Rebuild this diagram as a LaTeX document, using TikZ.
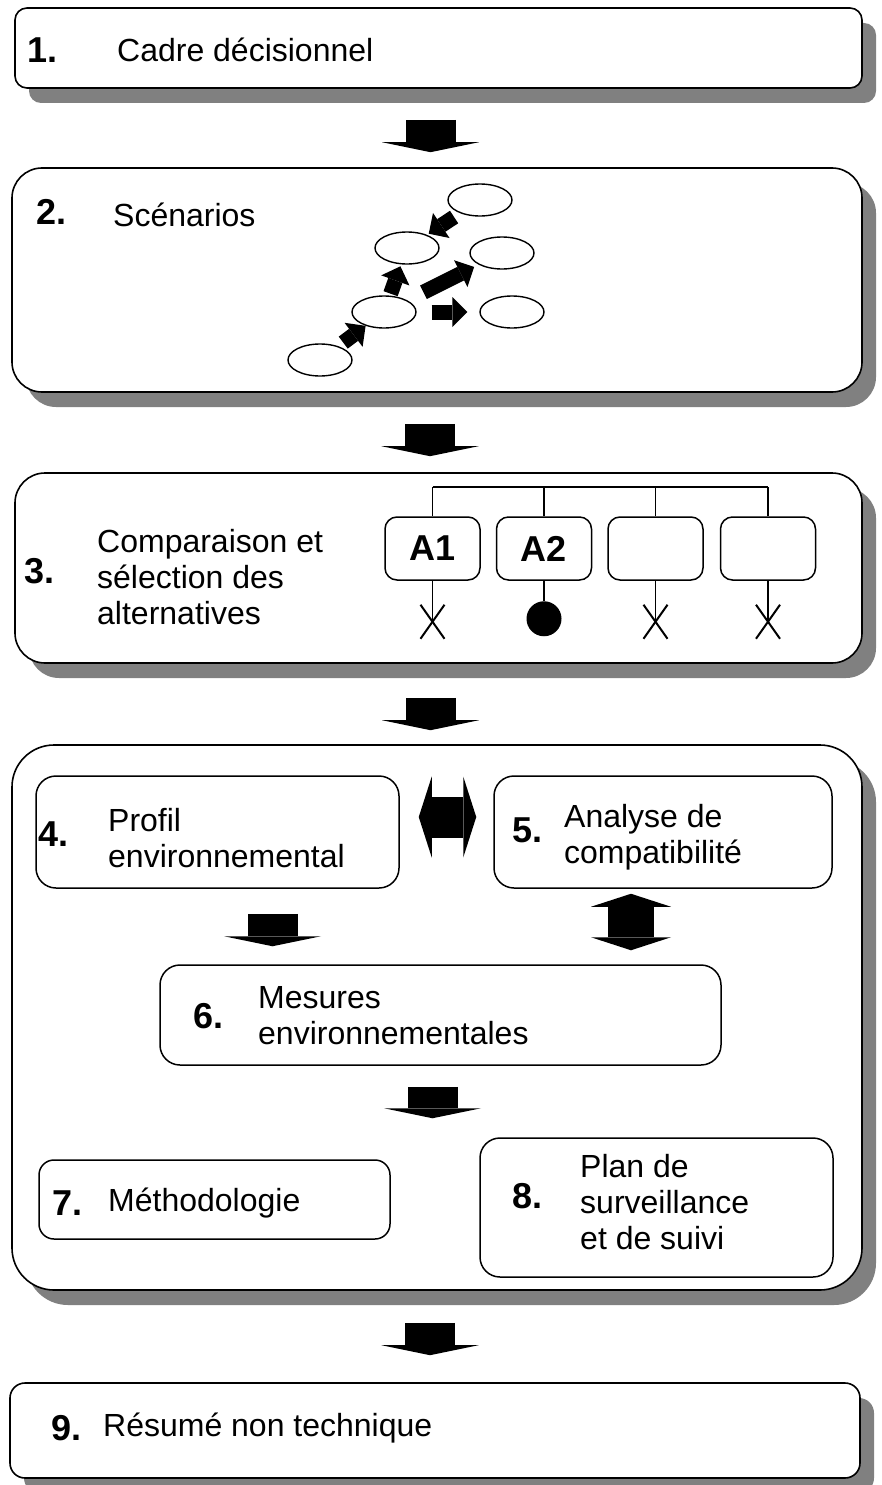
\documentclass[tikz,border=0pt]{standalone}
\usepackage{fontspec}
\setmainfont{Liberation Sans}
\usetikzlibrary{arrows.meta,shapes.geometric,shadows,calc}

\begin{document}
\begin{tikzpicture}[x=1pt, y=-1pt, font=\fontsize{32}{36}\selectfont]
  \tikzset{
    stage/.style={draw, line width=1.6pt, fill=white, rounded corners=#1, inner sep=0pt,
      drop shadow={shadow xshift=14pt, shadow yshift=-15pt, fill=black!50, opacity=1}},
    stage/.default=12pt,
    sub/.style={draw, line width=1.5pt, fill=white, rounded corners=#1, inner sep=0pt},
    sub/.default=20pt,
    alt/.style={draw, line width=1.5pt, fill=white, rounded corners=12pt, inner sep=0pt,
      minimum width=95pt, minimum height=63pt, font=\fontsize{36}{40}\selectfont\bfseries},
    num/.style={anchor=west, inner sep=0pt, font=\fontsize{36}{40}\selectfont\bfseries},
    lbl/.style={anchor=west, inner sep=0pt, align=left},
    scenario/.style={ellipse, draw, line width=1.4pt, fill=white, minimum width=64pt, minimum height=32pt, inner sep=0pt},
    wire/.style={line width=1.5pt},
    cross/.style={line width=2pt},
    bigarrow/.style={line width=50pt, -{Triangle[length=10pt, width=97pt, line width=0pt]}},
    smallarrow/.style={line width=15pt, -{Triangle[length=15pt, width=30pt, line width=0pt]}},
    dblh/.style={line width=41pt, {Triangle[length=13pt, width=81pt, line width=0pt]}-{Triangle[length=13pt, width=81pt, line width=0pt]}},
    dblv/.style={line width=46pt, {Triangle[length=13pt, width=80pt, line width=0pt]}-{Triangle[length=13pt, width=80pt, line width=0pt]}}
  }
  \useasboundingbox (0,0) rectangle (881,1485);

  % Main stages
  \node[stage=12pt, minimum width=847pt, minimum height=80pt]  (cadre)  at (438.5,48) {};
  \node[stage=30pt, minimum width=850pt, minimum height=224pt] (scen)   at (437,280) {};
  \node[stage=30pt, minimum width=847pt, minimum height=190pt] (comp)   at (438.5,568) {};
  \node[stage=42pt, minimum width=850pt, minimum height=545pt] (etude)  at (437,1017.5) {};
  \node[stage=15pt, minimum width=850pt, minimum height=95pt]  (resume) at (435,1430.5) {};

  % Inner boxes
  \node[sub, minimum width=363pt, minimum height=112pt]      (profil)  at (217.5,832) {};
  \node[sub, minimum width=338pt, minimum height=112pt]      (compat)  at (663,832) {};
  \node[sub, minimum width=561pt, minimum height=100pt]      (mesures) at (440.5,1015) {};
  \node[sub=15pt, minimum width=351pt, minimum height=79pt]  (methodo) at (214.5,1199.5) {};
  \node[sub, minimum width=353pt, minimum height=139pt]      (suivi)   at (656.5,1207.5) {};

  % Labels
  \node[num] (n1) at (27,50) {1.};
  \node[lbl] (t1) at (117,50) {Cadre décisionnel};
  \node[num] (n2) at (36,212) {2.};
  \node[lbl] (t2) at (113,215) {Scénarios};
  \node[num] (n3) at (24,571) {3.};
  \node[lbl] (t3) at (97,577) {Comparaison et\\sélection des\\alternatives};
  \node[num] (n4) at (38,834) {4.};
  \node[lbl] (t4) at (108,838) {Profil\\environnemental};
  \node[num] (n5) at (512,830) {5.};
  \node[lbl] (t5) at (564,837) {Analyse de\\compatibilité};
  \node[num] (n6) at (193,1016) {6.};
  \node[lbl] (t6) at (258,1016) {Mesures\\environnementales};
  \node[num] (n7) at (52,1203) {7.};
  \node[lbl] (t7) at (108,1203) {Méthodologie};
  \node[num] (n8) at (512,1196) {8.};
  \node[lbl] (t8) at (580,1202) {Plan de\\surveillance\\et de suivi};
  \node[num] (n9) at (51,1428) {9.};
  \node[lbl] (t9) at (103,1428) {Résumé non technique};

  % Scenarios
  \node[scenario] (e1) at (320,360) {};
  \node[scenario] (e2) at (384,312) {};
  \node[scenario] (e3) at (407,248) {};
  \node[scenario] (e4) at (480,200) {};
  \node[scenario] (e5) at (502,253) {};
  \node[scenario] (e6) at (512,312) {};
  \draw[smallarrow, shorten <=6pt] (e1) -- (e2);
  \draw[smallarrow, shorten <=2pt, shorten >=2pt] (e2) -- (e3);
  \draw[smallarrow, shorten <=18pt, shorten >=5pt] (e2) -- (e5);
  \draw[smallarrow, shorten <=15pt, shorten >=12pt] (e2) -- (e6);
  \draw[smallarrow, shorten <=7pt, shorten >=2pt] (e4) -- (e3);

  % Alternatives
  \node[alt] (a1) at (432.5,548.5) {A1};
  \node[alt] (a2) at (544,548.5) {A2};
  \node[alt] (a3) at (655.5,548.5) {};
  \node[alt] (a4) at (768,548.5) {};
  \coordinate (rail) at (0,487);
  \draw[wire] (a1.north |- rail) -- (a4.north |- rail);
  \foreach \a in {a1,a2,a3,a4}
    \draw[wire] (\a.north) -- (\a.north |- rail);
  \foreach \a in {a1,a3,a4} {
    \coordinate (\a x) at ($(\a.south)+(0,41)$);
    \draw[wire] (\a.south) -- (\a x);
    \draw[cross] ($(\a x)+(-12,-17)$) -- ($(\a x)+(12,17)$);
    \draw[cross] ($(\a x)+(12,-17)$) -- ($(\a x)+(-12,17)$);
  }
  \node[circle, fill, inner sep=0pt, minimum size=35pt] (chosen) at ($(a2.south)+(0,38)$) {};
  \draw[wire] (a2.south) -- (chosen);

  % Flow arrows
  \draw[bigarrow, shorten <=31pt, shorten >=15pt] ([xshift=-8pt]cadre.south) -- ([xshift=-8pt]cadre.south |- scen.north);
  \draw[bigarrow, shorten <=31pt, shorten >=16pt] ([xshift=-7pt]scen.south) -- ([xshift=-7pt]scen.south |- comp.north);
  \draw[bigarrow, shorten <=34pt, shorten >=14pt] ([xshift=-8pt]comp.south) -- ([xshift=-8pt]comp.south |- etude.north);
  \draw[bigarrow, shorten <=32pt, shorten >=27pt] ([xshift=-7pt]etude.south) -- ([xshift=-7pt]etude.south |- resume.north);

  \draw[bigarrow, shorten <=25pt, shorten >=18pt] ([xshift=55pt]profil.south) -- ([xshift=55pt]profil.south |- mesures.north);
  \draw[dblv, shorten <=5pt, shorten >=14pt] ([xshift=-32pt]compat.south) -- ([xshift=-32pt]compat.south |- mesures.north);
  \draw[dblh, shorten <=19pt, shorten >=17pt] ([yshift=15pt]profil.east) -- ([yshift=15pt]profil.east -| compat.west);
  \draw[bigarrow, shorten <=21pt, shorten >=19pt] ([xshift=-8pt]mesures.south) -- ([xshift=-8pt]mesures.south |- suivi.north);

\end{tikzpicture}
\end{document}
